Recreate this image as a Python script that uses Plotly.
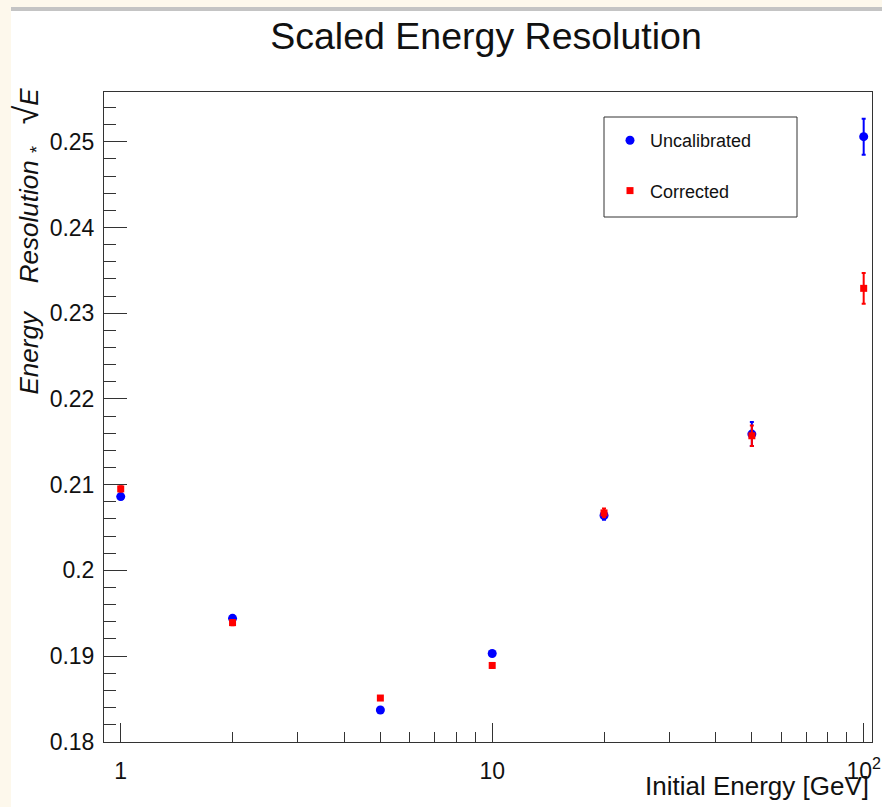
import plotly.graph_objects as go

# ---------------- data ----------------
energy = [1, 2, 5, 10, 20, 50, 100]
uncal = [0.2086, 0.1944, 0.1837, 0.1903, 0.2064, 0.2159, 0.2506]
uncal_err = [0.0003, 0.0003, 0.0002, 0.0003, 0.0005, 0.0014, 0.0021]
corr = [0.2095, 0.1939, 0.1851, 0.1889, 0.2067, 0.2157, 0.2329]
corr_err = [0.0003, 0.0003, 0.0002, 0.0003, 0.0005, 0.0012, 0.0018]
xtick_vals = [1, 10, 100]
xtick_text = ["1", "10", "10<sup>2</sup>"]
xminor_vals = [2, 3, 4, 5, 6, 7, 8, 9, 20, 30, 40, 50, 60, 70, 80, 90]

# ---------------- layout geometry (pixels) ----------------
FW, FH = 882, 807
L, R, T, B = 104, 872, 92, 742
PW, PH = R - L, B - T


def px_x(p):
    return (p - L) / PW


def px_y(p):
    return (B - p) / PH


FONT = "Liberation Sans, Arial, Helvetica, sans-serif"
AX = "#333333"
TXT = "#111111"

fig = go.Figure()
fig.add_trace(go.Scatter(
    x=energy, y=uncal, mode="markers", name="Uncalibrated", legendgroup="u",
    marker=dict(symbol="circle", size=9, color="#0000ff"),
    error_y=dict(type="data", array=uncal_err, color="#0000ff", thickness=2, width=2),
))
fig.add_trace(go.Scatter(
    x=energy, y=corr, mode="markers", name="Corrected", legendgroup="c",
    marker=dict(symbol="square", size=7, color="#ff0000"),
    error_y=dict(type="data", array=corr_err, color="#ff0000", thickness=2, width=2),
))

shapes = [
    # cream frame strips
    dict(type="rect", xref="paper", yref="paper", x0=px_x(0), x1=px_x(11), y0=px_y(FH), y1=px_y(0),
         fillcolor="#fdf8ec", line=dict(width=0), layer="below"),
    dict(type="rect", xref="paper", yref="paper", x0=px_x(0), x1=px_x(FW), y0=px_y(7), y1=px_y(0),
         fillcolor="#fdf8ec", line=dict(width=0), layer="below"),
    dict(type="rect", xref="paper", yref="paper", x0=px_x(11), x1=px_x(FW), y0=px_y(11), y1=px_y(7),
         fillcolor="#c4c4c4", line=dict(width=0), layer="below"),
    # legend box
    dict(type="rect", xref="paper", yref="paper", x0=px_x(604), x1=px_x(797), y0=px_y(217), y1=px_y(117),
         fillcolor="white", line=dict(color=AX, width=1)),
]

ytitle = ("<i>Energy</i>" + "&nbsp;" * 4 + "<i>Resolution</i>" + "&nbsp;" +
          "<sub>*</sub>" + "&nbsp;" * 3 +
          "<span style='font-size:34px'>√</span><i>E</i>")

annotations = [
    dict(text=ytitle, xref="paper", yref="paper",
         x=px_x(26), y=px_y(86), xanchor="center", yanchor="top", textangle=-90, showarrow=False,
         font=dict(family=FONT, size=26, color=TXT)),
    dict(text="Initial Energy [GeV]", xref="paper", yref="paper",
         x=px_x(871), y=px_y(786), xanchor="right", yanchor="middle", showarrow=False,
         font=dict(family=FONT, size=26, color=TXT)),
]

fig.update_layout(
    width=FW, height=FH, autosize=False,
    margin=dict(l=L, r=FW - R, t=T, b=FH - B, pad=0),
    paper_bgcolor="white", plot_bgcolor="white",
    font=dict(family=FONT, color=TXT),
    title=dict(text="Scaled Energy Resolution", x=486 / FW, xanchor="center",
               y=1 - 36 / FH, yanchor="middle", xref="container",
               font=dict(family=FONT, size=37.5, color=TXT)),
    showlegend=True,
    legend=dict(x=px_x(610), y=px_y(122), xanchor="left", yanchor="top",
                bgcolor="rgba(0,0,0,0)", borderwidth=0, tracegroupgap=24,
                font=dict(family=FONT, size=18, color=TXT)),
    shapes=shapes, annotations=annotations,
    xaxis=dict(type="log", range=[-0.045, 2.0224], showgrid=False, zeroline=False,
               automargin=False,
               showline=True, linecolor=AX, linewidth=1, mirror=True,
               ticks="inside", ticklen=19, tickcolor=AX, tickwidth=1,
               tickmode="array", tickvals=xtick_vals, ticktext=xtick_text,
               tickfont=dict(family=FONT, size=23, color=TXT),
               ticklabelstandoff=8,
               minor=dict(ticks="inside", ticklen=10, tickcolor=AX, tickwidth=1,
                          tickmode="array", tickvals=xminor_vals, showgrid=False)),
    yaxis=dict(range=[0.17997, 0.25581], showgrid=False, zeroline=False,
               automargin=False,
               showline=True, linecolor=AX, linewidth=1, mirror=True,
               ticks="inside", ticklen=23, tickcolor=AX, tickwidth=1,
               tick0=0.18, dtick=0.01, tickformat="~g",
               tickfont=dict(family=FONT, size=23, color=TXT),
               ticklabelstandoff=4,
               minor=dict(ticks="inside", ticklen=12, tickcolor=AX, tickwidth=1,
                          tick0=0.18, dtick=0.002, showgrid=False)),
)

fig.write_html("out.html")
